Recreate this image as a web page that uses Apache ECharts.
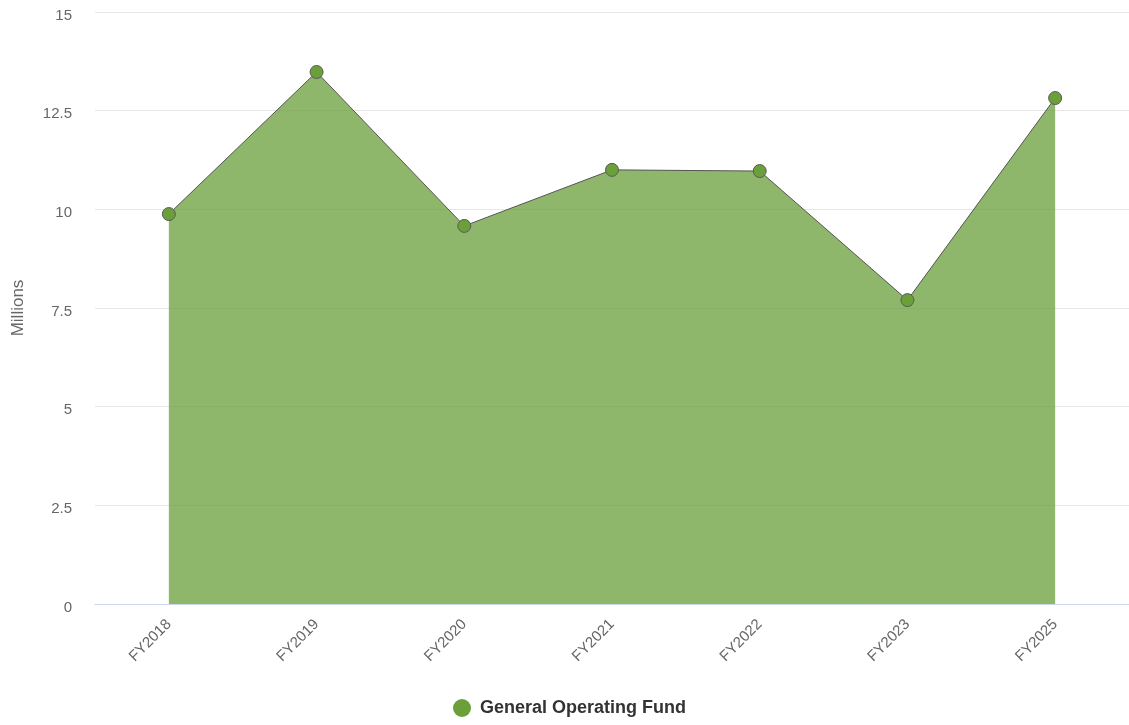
<!DOCTYPE html>
<html>
<head>
<meta charset="utf-8">
<script src="https://cdn.jsdelivr.net/npm/echarts@6/dist/echarts.min.js"></script>
<style>
  html, body { margin: 0; padding: 0; background: #fff; }
  #main { width: 1129px; height: 725px; }
</style>
</head>
<body>
<div id="main"></div>
<script>
var categories = ['FY2018', 'FY2019', 'FY2020', 'FY2021', 'FY2022', 'FY2023', 'FY2025'];
var fundValues = [9.88, 13.48, 9.58, 11.0, 10.97, 7.7, 12.82];
var seriesName = 'General Operating Fund';

var myChart = echarts.init(document.getElementById('main'));

var option = {
    animation: false,
    textStyle: { fontFamily: 'Liberation Sans, Arial, sans-serif' },
    grid: { left: 95, right: 0, top: 12, bottom: 121 },
    legend: {
        bottom: 3,
        left: 448,
        icon: 'circle',
        itemWidth: 18,
        itemHeight: 18,
        itemStyle: { borderWidth: 0 },
        textStyle: { fontSize: 18, fontWeight: 'bold', color: '#333', padding: [0, 0, 0, 4] },
        data: [seriesName]
    },
    xAxis: {
        type: 'category',
        data: categories,
        boundaryGap: true,
        axisLine: { lineStyle: { color: '#ccd6eb' } },
        axisTick: { show: false },
        axisLabel: { rotate: 45, color: '#666', fontSize: 15, margin: 18 }
    },
    yAxis: {
        type: 'value',
        min: 0,
        max: 15,
        interval: 2.5,
        name: 'Millions',
        nameLocation: 'middle',
        nameGap: 68,
        nameTextStyle: { color: '#666', fontSize: 17 },
        axisLine: { show: false },
        axisTick: { show: false },
        axisLabel: { color: '#666', fontSize: 15, margin: 23, verticalAlign: 'top', lineHeight: 15, padding: [-4, 0, 0, 0] },
        splitLine: { lineStyle: { color: '#e6e6e6' } }
    },
    series: [{
        name: seriesName,
        type: 'line',
        data: fundValues,
        symbol: 'circle',
        symbolSize: 13,
        itemStyle: { color: '#6a9f3a', borderColor: '#5a5a5a', borderWidth: 1 },
        lineStyle: { color: '#555', width: 1 },
        areaStyle: { color: '#6a9f3a', opacity: 0.75 }
    }]
};

myChart.setOption(option);
</script>
</body>
</html>
